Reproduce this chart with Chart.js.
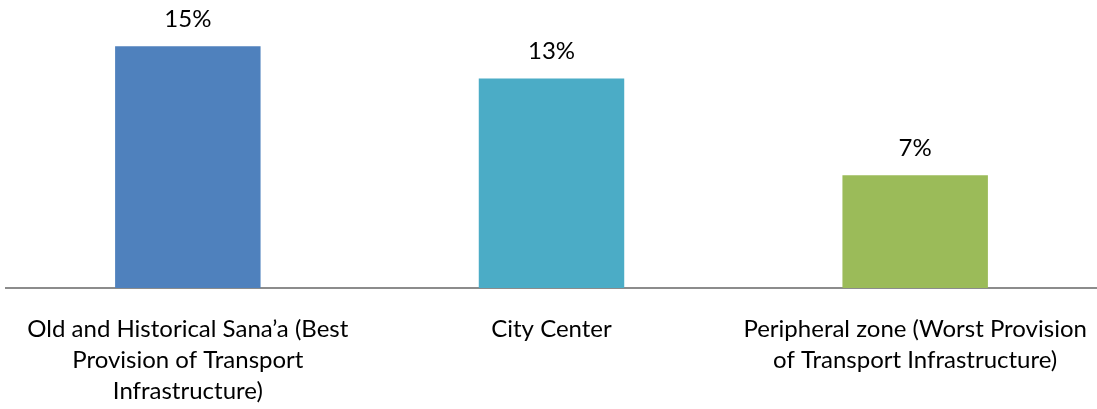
<!DOCTYPE html>
<html>
<head>
<meta charset="utf-8">
<script src="https://cdn.jsdelivr.net/npm/chart.js@4.4.1/dist/chart.umd.min.js"></script>
<style>
  html, body { margin: 0; padding: 0; background: #fff; }
  #wrap { width: 1097px; height: 409px; position: relative; }
</style>
</head>
<body>
<div id="wrap"><canvas id="chart"></canvas></div>
<script>
  // categories (wrapped the way the original shows them)
  var categories = [
    ['Old and Historical Sana\u2019a (Best', 'Provision of Transport', 'Infrastructure)'],
    'City Center',
    ['Peripheral zone (Worst Provision', 'of Transport Infrastructure)']
  ];
  var shares = [15, 13, 7];
  var barColors = ['#4F81BD', '#4BACC6', '#9BBB59'];
  var yMax = 16;

  var FONT = 'Lato';

  var barLabels = {
    id: 'barLabels',
    afterDatasetsDraw: function (chart) {
      var ctx = chart.ctx;
      var meta = chart.getDatasetMeta(0);
      ctx.save();
      ctx.font = '24px ' + FONT;
      ctx.fillStyle = '#000';
      ctx.textAlign = 'center';
      ctx.textBaseline = 'alphabetic';
      meta.data.forEach(function (bar, i) {
        ctx.fillText(shares[i] + '%', bar.x, bar.y - 19);
      });
      ctx.restore();
    }
  };

  new Chart(document.getElementById('chart'), {
    type: 'bar',
    data: {
      labels: categories,
      datasets: [{
        data: shares,
        backgroundColor: barColors,
        borderWidth: 0,
        barPercentage: 0.4,
        categoryPercentage: 1
      }]
    },
    options: {
      responsive: true,
      maintainAspectRatio: false,
      animation: false,
      layout: { padding: { top: 30, left: 6, right: 0, bottom: 0 } },
      plugins: { legend: { display: false }, tooltip: { enabled: false } },
      scales: {
        x: {
          grid: { display: true, drawOnChartArea: false, drawTicks: false },
          border: { display: true, color: '#8C8C8C', width: 2 },
          ticks: {
            color: '#000',
            font: { family: FONT, size: 24, lineHeight: 1.29 },
            padding: 26,
            autoSkip: false,
            maxRotation: 0
          },
          afterFit: function (scale) {
            scale.height = 121;
            // labels may run to the canvas edge, don't shrink the plot for them
            scale.paddingLeft = 0;
            scale.paddingRight = 0;
          }
        },
        y: { display: false, min: 0, max: yMax }
      }
    },
    plugins: [barLabels]
  });
</script>
</body>
</html>
